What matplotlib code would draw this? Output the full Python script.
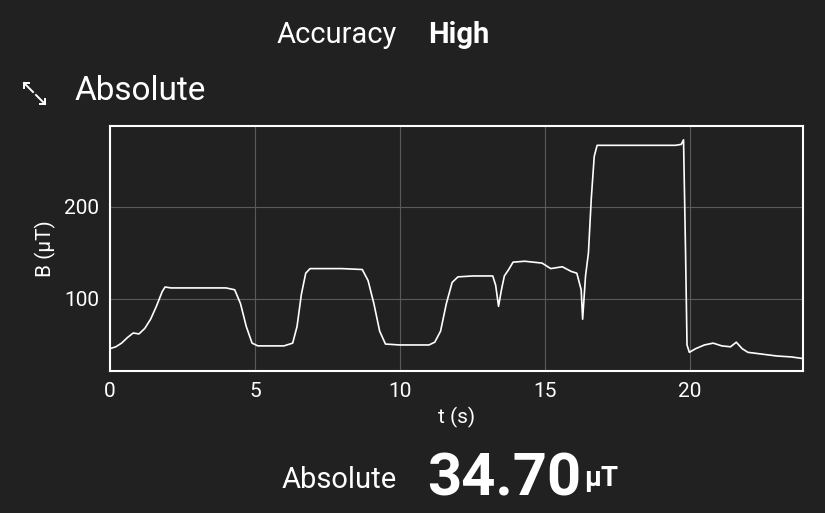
import matplotlib
matplotlib.use("Agg")
import matplotlib.pyplot as plt
from matplotlib.lines import Line2D

t = [0.0, 0.2, 0.4, 0.6, 0.8, 1.0, 1.2, 1.4, 1.6, 1.8, 1.9, 2.1, 3.0, 4.0, 4.3, 4.5, 4.7, 4.9, 5.1, 6.0, 6.3, 6.45, 6.6, 6.75, 6.9, 7.2, 8.0, 8.7, 8.9, 9.1, 9.3, 9.5, 10.0, 11.0, 11.2, 11.4, 11.6, 11.8, 12.0, 12.5, 13.2, 13.3, 13.4, 13.5, 13.6, 13.75, 13.9, 14.3, 14.9, 15.2, 15.6, 15.9, 16.1, 16.25, 16.3, 16.4, 16.5, 16.6, 16.7, 16.8, 17.5, 18.5, 19.5, 19.7, 19.78, 19.85, 19.9, 19.98, 20.2, 20.5, 20.8, 21.1, 21.4, 21.6, 21.8, 22.0, 22.5, 23.0, 23.5, 23.95]
b = [46, 48, 52, 58, 63, 62, 68, 78, 92, 108, 113, 112, 112, 112, 110, 95, 70, 52, 49, 49, 52, 70, 105, 128, 133, 133, 133, 132, 120, 95, 65, 51, 50, 50, 53, 65, 95, 118, 124, 125, 125, 115, 92, 110, 125, 132, 140, 141, 139, 133, 135, 130, 128, 110, 78, 125, 150, 210, 255, 267, 267, 267, 267, 268, 273, 150, 50, 42, 46, 50, 52, 49, 48, 53, 46, 42, 40, 38, 37, 35]

bg = "#212121"
plt.rcParams['font.family'] = ['Roboto', 'DejaVu Sans']
fig = plt.figure(figsize=(8.25, 5.13), dpi=100, facecolor=bg)
ax = fig.add_axes([110/825, 1-371/513, 693/825, 245/513], facecolor=bg)
ax.plot(t, b, color="white", lw=1.2)
ax.set_xlim(0, 23.9)
ax.set_ylim(21.7, 288)
ax.set_xticks([0, 5, 10, 15, 20])
ax.set_yticks([100, 200])
ax.grid(True, color="#5a5a5a", lw=0.8)
for s in ax.spines.values():
    s.set_color("white"); s.set_linewidth(1.5)
ax.tick_params(colors="white", labelsize=15, length=0, pad=8)
ax.set_xlabel("t (s)", color="white", fontsize=15, labelpad=4)
ax.set_ylabel("B (µT)", color="white", fontsize=15, labelpad=6)

fig.text(397/825, 1-35/513, "Accuracy", color="white", fontsize=21, ha="right", va="center")
fig.text(428/825, 1-35/513, "High", color="white", fontsize=21, weight="bold", ha="left", va="center")
fig.text(75/825, 1-91/513, "Absolute", color="white", fontsize=24, ha="left", va="center")
fig.text(397/825, 1-480/513, "Absolute", color="white", fontsize=21, ha="right", va="center")
fig.text(427/825, 1-480/513, "34.70", color="white", fontsize=43, weight="bold", ha="left", va="center")
fig.text(584/825, 1-478/513, "µT", color="white", fontsize=20, weight="bold", ha="left", va="center")

def fl(xs, ys):
    fig.add_artist(Line2D([x/825 for x in xs], [1-y/513 for y in ys], transform=fig.transFigure,
                          color="white", lw=1.4))
fl([24, 33], [83, 92]); fl([24, 24, 29], [88, 83, 83])
fl([36, 45], [95, 104]); fl([40, 45, 45], [104, 104, 99])
fig.savefig("out.png", facecolor=bg)
